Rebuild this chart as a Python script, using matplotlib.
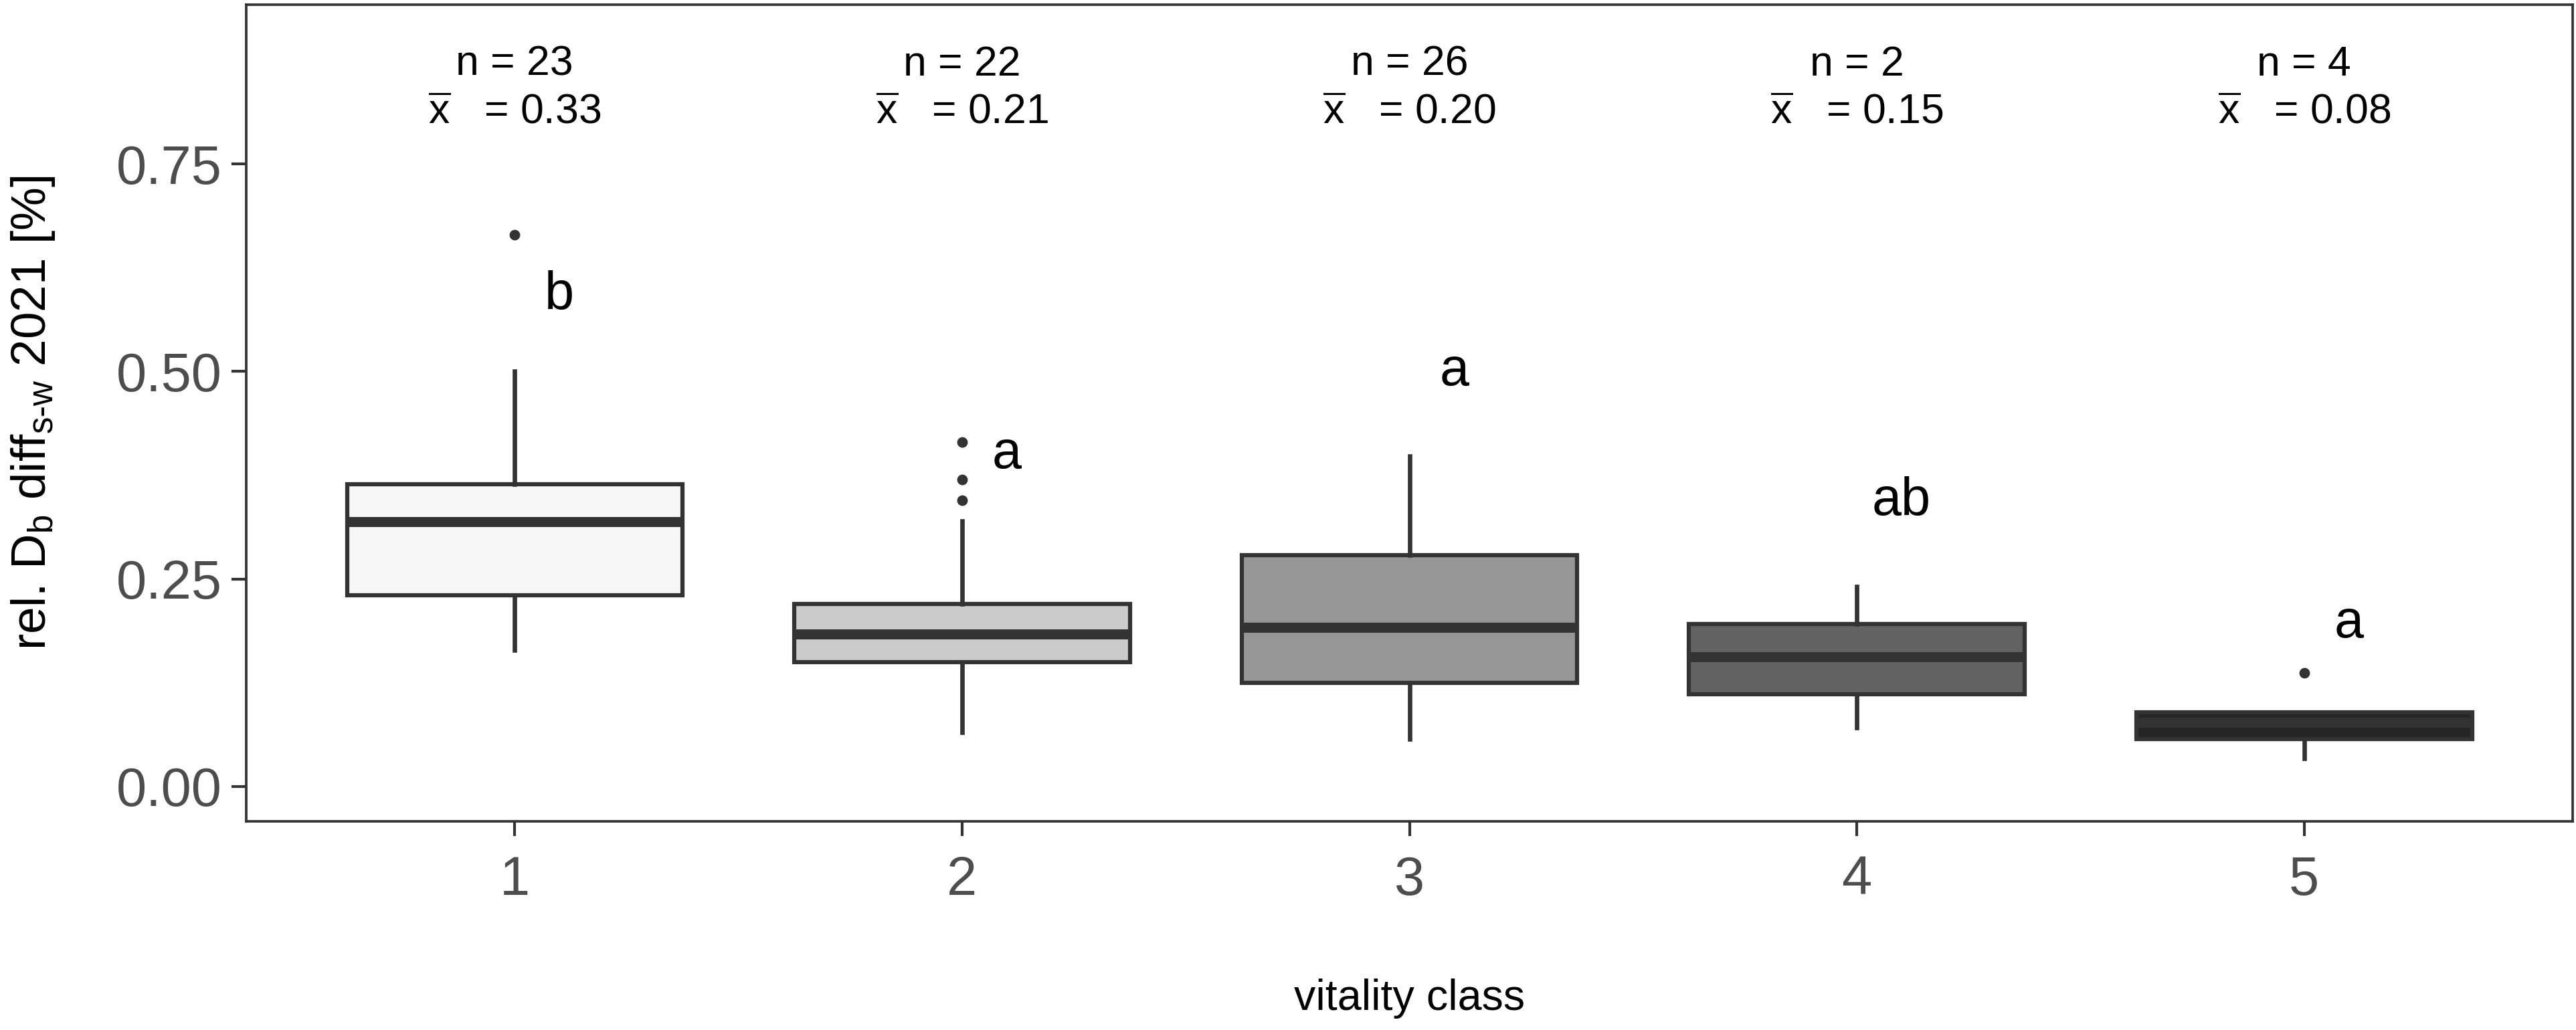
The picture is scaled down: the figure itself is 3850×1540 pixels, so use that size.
import matplotlib
matplotlib.use('Agg')
import matplotlib.pyplot as plt

plt.rcParams['font.family'] = ['Liberation Sans', 'DejaVu Sans']
plt.rcParams['mathtext.fontset'] = 'custom'
plt.rcParams['mathtext.rm'] = 'Liberation Sans'
plt.rcParams['mathtext.it'] = 'Liberation Sans:italic'

classes = ['1', '2', '3', '4', '5']
whislo = [0.164, 0.065, 0.057, 0.071, 0.034]
q1 = [0.230, 0.150, 0.125, 0.111, 0.057]
med = [0.319, 0.184, 0.192, 0.156, 0.077]
q3 = [0.364, 0.220, 0.279, 0.196, 0.089]
whishi = [0.500, 0.320, 0.398, 0.241, 0.089]
fliers = [[0.665], [0.345, 0.370, 0.415], [], [], [0.137]]
n_obs = [23, 22, 26, 2, 4]
means = [0.33, 0.21, 0.20, 0.15, 0.08]
letters = ['b', 'a', 'a', 'ab', 'a']
letter_y = [0.592, 0.400, 0.500, 0.344, 0.196]
fills = ['#f7f7f7', '#cccccc', '#969696', '#636363', '#252525']

edge = '#333333'

fig = plt.figure(figsize=(3850 / 300, 1540 / 300), dpi=300)
ax = fig.add_axes([0.0956, 0.2026, 0.9031, 0.7929])

stats = []
for i in range(len(classes)):
    stats.append({'whislo': whislo[i], 'q1': q1[i], 'med': med[i], 'q3': q3[i],
                  'whishi': whishi[i], 'fliers': fliers[i]})

pos = list(range(1, len(classes) + 1))
bp = ax.bxp(stats, positions=pos, widths=0.75, patch_artist=True, showcaps=False,
            boxprops=dict(edgecolor=edge, linewidth=1.5),
            whiskerprops=dict(color=edge, linewidth=1.6),
            medianprops=dict(color=edge, linewidth=3.6, solid_capstyle='butt'),
            flierprops=dict(marker='o', markersize=2.8, markerfacecolor=edge,
                            markeredgecolor=edge, linestyle='none'))
for patch, c in zip(bp['boxes'], fills):
    patch.set_facecolor(c)

for i in range(len(classes)):
    ax.text(pos[i], 0.870, 'n = %d' % n_obs[i], ha='center', va='center', fontsize=15)
    ax.text(pos[i], 0.812, r'$\overline{\mathrm{x}}$   = %.2f' % means[i], ha='center',
            va='center', fontsize=15)
    ax.text(pos[i] + 0.1, letter_y[i], letters[i], ha='center', va='center', fontsize=19)

ax.set_xlim(0.4, 5.6)
ax.set_ylim(-0.042, 0.942)
ax.set_yticks([0.0, 0.25, 0.5, 0.75])
ax.set_yticklabels(['0.00', '0.25', '0.50', '0.75'])
ax.set_xticks(pos)
ax.set_xticklabels(classes)
ax.tick_params(axis='both', colors=edge, labelcolor='#4d4d4d', labelsize=19.5,
               length=5.2, width=1.0)
ax.tick_params(axis='x', pad=7)
ax.tick_params(axis='y', pad=3.6)
for s in ax.spines.values():
    s.set_color(edge)
    s.set_linewidth(0.9)

ax.set_xlabel('vitality class', fontsize=15.5)
ax.xaxis.set_label_coords(0.5, -0.217)
ax.xaxis.label.set_va('center')
ax.set_ylabel(r'rel. D$_{\mathrm{b}}$ diff$_{\text{s-w}}$ 2021 [%]', fontsize=17.5)
ax.yaxis.set_label_coords(-0.0915, 0.5)
ax.yaxis.label.set_va('center')

fig.savefig('out.png', dpi=300)
